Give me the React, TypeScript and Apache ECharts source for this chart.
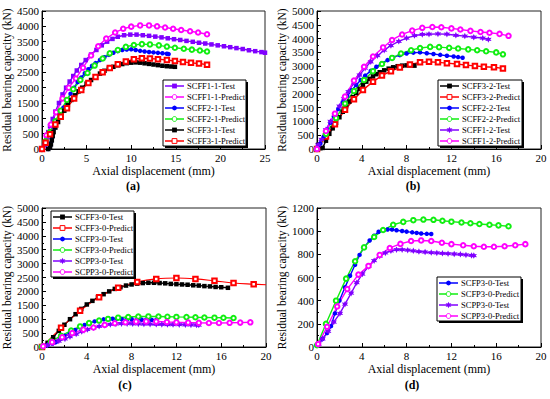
import React, { useEffect, useRef } from "react";
import * as echarts from "echarts";

const FONT = '"Liberation Serif", "Times New Roman", serif';

// Colours
const VIOLET = "#8000ff";
const MAGENTA = "#ff00ff";
const BLUE = "#0000ff";
const GREEN = "#11ee11";
const BLACK = "#000000";
const RED = "#ff0000";

const STAR_PTS = [[0,-10],[2.5,-4.33],[8.66,-5],[5,0],[8.66,5],[2.5,4.33],[0,10],[-2.5,4.33],[-8.66,5],[-5,0],[-8.66,-5],[-2.5,-4.33]];
const STAR = "path://M" + STAR_PTS.map((p) => p.join(",")).join("L") + "Z";

// ---------- Panel (a) ----------
const scff1_1_test = [[0.1,20],[0.3,120],[0.5,350],[0.7,550],[0.9,750],[1.2,980],[1.5,1220],[1.9,1500],[2.3,1780],[2.7,2000],[3.1,2200],[3.5,2380],[3.9,2560],[4.4,2740],[4.9,2900],[5.5,3080],[6.1,3230],[6.7,3380],[7.3,3500],[7.9,3590],[8.5,3660],[9.2,3710],[9.9,3730],[10.6,3730],[11.3,3710],[12.0,3690],[12.7,3665],[13.4,3640],[14.1,3610],[14.8,3580],[15.5,3555],[16.2,3525],[16.9,3495],[17.6,3465],[18.3,3440],[19.0,3410],[19.7,3380],[20.4,3350],[21.1,3320],[21.8,3290],[22.5,3260],[23.2,3220],[23.9,3190],[24.6,3160],[25.0,3140]];
const scff1_1_pred = [[0,0],[0.5,450],[1.0,800],[1.6,1200],[2.3,1650],[3.0,2000],[3.8,2300],[4.6,2650],[5.5,3050],[6.3,3350],[7.2,3600],[8.2,3800],[9.1,3920],[10.0,3990],[11.0,4030],[12.0,4030],[12.9,4000],[13.8,3960],[14.7,3920],[15.6,3880],[16.6,3840],[17.5,3800],[18.5,3740]];
const scff2_1_test = [[0.7,0],[0.9,80],[1.0,200],[1.1,350],[1.2,500],[1.4,680],[1.7,900],[2.0,1100],[2.4,1350],[2.8,1580],[3.2,1800],[3.6,2000],[4.0,2180],[4.4,2330],[4.8,2470],[5.2,2600],[5.6,2710],[6.0,2800],[6.5,2900],[7.0,2990],[7.5,3070],[8.0,3140],[8.5,3190],[9.0,3225],[9.5,3245],[10.0,3250],[10.5,3230],[11.0,3200],[11.5,3180],[12.0,3165],[12.5,3150],[13.0,3135],[13.5,3120],[14.0,3105],[14.2,3095]];
const scff2_1_pred = [[0,0],[0.4,250],[0.9,550],[1.5,900],[2.1,1250],[2.8,1600],[3.5,1950],[4.3,2250],[5.1,2480],[5.9,2720],[6.8,2950],[7.6,3120],[8.5,3230],[9.4,3330],[10.3,3390],[11.2,3420],[12.1,3410],[13.1,3380],[14.0,3340],[14.9,3300],[15.9,3270],[16.8,3240],[17.7,3210],[18.5,3180]];
const scff3_1_test = [[0.7,0],[0.9,60],[1.0,150],[1.1,280],[1.2,420],[1.3,550],[1.5,700],[1.8,880],[2.1,1050],[2.5,1250],[2.9,1430],[3.3,1600],[3.7,1750],[4.1,1880],[4.5,2000],[5.0,2130],[5.5,2250],[6.0,2360],[6.5,2460],[7.0,2550],[7.5,2620],[8.0,2680],[8.5,2730],[9.0,2770],[9.5,2800],[10.0,2815],[10.5,2825],[11.0,2815],[11.5,2795],[12.0,2775],[12.5,2755],[13.0,2735],[13.5,2715],[14.0,2700],[14.5,2690],[14.9,2680]];
const scff3_1_pred = [[0,0],[0.4,200],[0.9,480],[1.5,800],[2.1,1050],[2.8,1330],[3.6,1650],[4.4,1920],[5.2,2150],[6.0,2350],[6.8,2500],[7.6,2640],[8.5,2760],[9.4,2850],[10.3,2930],[11.2,2960],[12.1,2950],[13.0,2930],[14.0,2900],[14.9,2870],[15.8,2840],[16.7,2810],[17.6,2790],[18.5,2750]];

// ---------- Panel (b) ----------
const scff3_2_test = [[0.1,150],[0.3,30],[0.5,40],[0.8,300],[1.1,550],[1.4,750],[1.7,950],[2.0,1150],[2.3,1350],[2.6,1550],[2.9,1720],[3.2,1880],[3.5,2030],[3.8,2180],[4.1,2320],[4.4,2440],[4.7,2540],[5.0,2630],[5.3,2710],[5.6,2780],[6.0,2850],[6.4,2910],[6.8,2960],[7.2,3000],[7.6,3020],[8.0,3030],[8.4,3030],[8.7,3020]];
const scff3_2_pred = [[0,0],[0.8,450],[1.6,900],[2.5,1420],[3.3,1800],[4.1,2140],[5.0,2440],[5.8,2660],[6.6,2820],[7.4,2950],[8.3,3060],[9.2,3140],[10.0,3160],[10.8,3140],[11.6,3110],[12.5,3080],[13.3,3040],[14.1,3010],[14.9,2980],[15.8,2960],[16.6,2920]];
const scff2_2_test = [[0.1,100],[0.3,200],[0.6,450],[0.9,700],[1.2,950],[1.5,1180],[1.9,1450],[2.3,1700],[2.7,1920],[3.1,2130],[3.5,2320],[3.9,2500],[4.3,2660],[4.8,2830],[5.3,2980],[5.8,3110],[6.3,3220],[6.8,3320],[7.4,3400],[8.0,3460],[8.6,3490],[9.2,3500],[9.8,3470],[10.4,3440],[11.0,3410],[11.6,3380],[12.2,3350],[12.6,3330],[13.0,3305]];
const scff2_2_pred = [[0,0],[0.8,550],[1.7,1120],[2.5,1650],[3.3,2100],[4.2,2500],[5.0,2820],[5.8,3080],[6.7,3300],[7.5,3460],[8.4,3580],[9.2,3660],[10.1,3700],[10.9,3690],[11.8,3665],[12.6,3640],[13.5,3610],[14.3,3580],[15.1,3540],[16.0,3500],[16.6,3430]];
const scff1_2_test = [[0.1,150],[0.4,350],[0.8,700],[1.2,1000],[1.6,1250],[2.0,1550],[2.4,1820],[2.8,2080],[3.3,2400],[3.8,2680],[4.3,2930],[4.8,3160],[5.4,3380],[6.0,3580],[6.6,3750],[7.3,3900],[8.0,4020],[8.7,4110],[9.4,4150],[10.0,4160],[10.8,4170],[11.6,4160],[12.4,4120],[13.2,4090],[14.0,4050],[14.8,4020],[15.3,3970]];
const scff1_2_pred = [[0,0],[0.8,650],[1.6,1280],[2.5,1900],[3.3,2480],[4.2,2980],[5.0,3350],[5.9,3680],[6.7,3950],[7.6,4150],[8.5,4290],[9.4,4390],[10.3,4420],[11.1,4410],[12.0,4370],[12.8,4330],[13.7,4280],[14.6,4240],[15.4,4210],[16.3,4170],[17.1,4100]];

// ---------- Panels (c) and (d) ----------
const scff3_0_test = [[0,0],[0.5,150],[1.0,350],[1.5,580],[2.0,800],[2.5,1000],[3.0,1180],[3.5,1370],[4.0,1530],[4.5,1660],[5.0,1790],[5.5,1900],[6.0,2000],[6.5,2090],[7.0,2150],[7.5,2210],[8.0,2250],[8.5,2280],[9.0,2300],[9.5,2310],[10.0,2310],[10.5,2300],[11.0,2290],[11.5,2270],[12.0,2260],[12.5,2250],[13.0,2240],[13.5,2220],[14.0,2210],[14.5,2190],[15.0,2180],[15.5,2160],[16.0,2150],[16.6,2130]];
const scff3_0_pred = [[0,0],[1.7,690],[3.4,1300],[5.1,1790],[6.8,2130],[8.5,2340],[10.2,2450],[12.0,2480],[13.7,2450],[15.4,2380],[17.1,2300],[18.9,2260],[20,2240]];
const scfp3_0_test = [[0.1,15],[0.5,70],[0.9,120],[1.25,180],[1.6,290],[2.0,400],[2.5,515],[2.95,615],[3.4,710],[3.8,795],[4.2,860],[4.7,920],[5.1,960],[5.5,995],[5.9,1010],[6.3,1015],[6.7,1015],[7.1,1008],[7.6,1002],[8.0,996],[8.5,990],[8.9,985],[9.3,980],[9.8,977],[10.2,976]];
const scfp3_0_pred = [[0,15],[0.8,200],[1.7,400],[2.6,590],[3.4,740],[4.2,860],[5.1,950],[5.9,1010],[6.8,1055],[7.7,1080],[8.6,1095],[9.5,1100],[10.4,1098],[11.2,1090],[12.0,1082],[12.9,1075],[13.7,1068],[14.5,1062],[15.4,1055],[16.2,1050],[17.1,1042]];
const scpp3_0_test = [[0.15,25],[0.5,70],[1.0,135],[1.5,215],[2.05,290],[2.5,370],[3.05,465],[3.55,555],[4.05,630],[4.6,695],[5.1,745],[5.6,785],[6.1,812],[6.6,830],[7.1,840],[7.6,840],[8.1,836],[8.6,830],[9.1,824],[9.65,820],[10.2,815],[10.7,812],[11.2,809],[11.7,806],[12.25,803],[12.8,800],[13.3,795],[13.8,791],[14.0,789]];
const scpp3_0_pred = [[0.1,25],[0.9,175],[1.8,350],[2.7,500],[3.7,625],[4.6,700],[5.6,795],[6.5,855],[7.45,890],[8.4,915],[9.3,920],[10.2,915],[11.15,900],[12.0,888],[13.05,878],[14.0,870],[14.9,865],[15.8,865],[16.75,870],[17.7,878],[18.6,888]];

// Axis ticks
const xTicksA = { min: 0, max: 25, interval: 5 };
const xTicksB = { min: 0, max: 20, interval: 4 };
const yTicksA = { min: 0, max: 4500, interval: 500 };
const yTicksB = { min: 0, max: 5000, interval: 500 };
const yTicksD = { min: 0, max: 1200, interval: 200 };

const legendA = ["SCFF1-1-Test","SCFF1-1-Predict","SCFF2-1-Test","SCFF2-1-Predict","SCFF3-1-Test","SCFF3-1-Predict"];
const legendB = ["SCFF3-2-Test","SCFF3-2-Predict","SCFF2-2-Test","SCFF2-2-Predict","SCFF1-2-Test","SCFF1-2-Predict"];
const legendC = ["SCFF3-0-Test","SCFF3-0-Predict","SCFP3-0-Test","SCFP3-0-Predict","SCPP3-0-Test","SCPP3-0-Predict"];
const legendD = ["SCFP3-0-Test","SCFP3-0-Predict","SCPP3-0-Test","SCPP3-0-Predict"];

const panelLabels = ["(a)", "(b)", "(c)", "(d)"];

const X_TITLE = "Axial displacement (mm)";
const Y_TITLE = "Residual bearing capacity (kN)";

// series style: name -> [colour, symbol]
const STYLE: Record<string, [string, string]> = {
  "SCFF1-1-Test": [VIOLET, "rect"], "SCFF1-1-Predict": [MAGENTA, "emptyCircle"],
  "SCFF2-1-Test": [BLUE, "circle"], "SCFF2-1-Predict": [GREEN, "emptyCircle"],
  "SCFF3-1-Test": [BLACK, "rect"], "SCFF3-1-Predict": [RED, "emptyRect"],
  "SCFF3-2-Test": [BLACK, "rect"], "SCFF3-2-Predict": [RED, "emptyRect"],
  "SCFF2-2-Test": [BLUE, "circle"], "SCFF2-2-Predict": [GREEN, "emptyCircle"],
  "SCFF1-2-Test": [VIOLET, "star"], "SCFF1-2-Predict": [MAGENTA, "emptyCircle"],
  "SCFF3-0-Test": [BLACK, "rect"], "SCFF3-0-Predict": [RED, "emptyRect"],
  "SCFP3-0-Test": [BLUE, "circle"], "SCFP3-0-Predict": [GREEN, "emptyCircle"],
  "SCPP3-0-Test": [VIOLET, "star"], "SCPP3-0-Predict": [MAGENTA, "emptyCircle"],
};

function xAxis(gridIndex: number, t: any) {
  return {
    type: "value", gridIndex, ...t,
    axisLine: { show: true, onZero: false, lineStyle: { color: "#000", width: 1 } },
    axisTick: { show: true, inside: true, length: 4, lineStyle: { color: "#000" } },
    minorTick: { show: true, splitNumber: 2, length: 2, lineStyle: { color: "#000" } },
    splitLine: { show: false },
    axisLabel: { color: "#000", fontFamily: FONT, fontSize: 11, margin: 3, formatter: (v: number) => String(v) },
    name: X_TITLE, nameLocation: "middle", nameGap: 16,
    nameTextStyle: { color: "#000", fontFamily: FONT, fontSize: 12 },
  };
}
function yAxis(gridIndex: number, t: any) {
  return {
    type: "value", gridIndex, ...t,
    axisLine: { show: true, onZero: false, lineStyle: { color: "#000", width: 1 } },
    axisTick: { show: true, inside: true, length: 4, lineStyle: { color: "#000" } },
    minorTick: { show: true, splitNumber: 2, length: 2, lineStyle: { color: "#000" } },
    splitLine: { show: false },
    axisLabel: { color: "#000", fontFamily: FONT, fontSize: 11, margin: 3, formatter: (v: number) => String(v) },
    name: Y_TITLE, nameLocation: "middle", nameGap: 25,
    nameTextStyle: { color: "#000", fontFamily: FONT, fontSize: 11.5 },
  };
}

function line(name: string, data: any[], idx: number, extra: any = {}) {
  const [color, sym] = STYLE[name];
  const symbol = sym === "star" ? STAR : sym;
  const hollow = sym.startsWith("empty");
  return {
    type: "line", name, data, xAxisIndex: idx, yAxisIndex: idx,
    symbol, symbolSize: sym === "star" ? 6.5 : 4.5,
    showAllSymbol: true,
    lineStyle: { color, width: 1.4 },
    itemStyle: { color, borderColor: color, borderWidth: hollow ? 1 : 0 },
    emphasis: { disabled: true },
    z: 2,
    ...extra,
  };
}

function legendGraphic(names: string[], left: number, top: number, width: number) {
  const rowH = 11;
  const h = names.length * rowH;
  const els: any[] = [
    { type: "rect", z: 20, shape: { x: left + 2, y: top + 2, width, height: h }, style: { fill: "#000" } },
    { type: "rect", z: 21, shape: { x: left, y: top, width, height: h }, style: { fill: "#fff", stroke: "#000", lineWidth: 1 } },
  ];
  names.forEach((n, i) => {
    const [color, sym] = STYLE[n];
    const cy = top + 6 + rowH * i;
    const x0 = left + 2, x1 = left + 21, cx = (x0 + x1) / 2;
    els.push({ type: "line", z: 22, shape: { x1: x0, y1: cy, x2: x1, y2: cy }, style: { stroke: color, lineWidth: 1.5 } });
    const hollow = sym.startsWith("empty");
    const st = hollow ? { fill: "#fff", stroke: color, lineWidth: 1 } : { fill: color };
    if (sym.endsWith("ircle")) {
      els.push({ type: "circle", z: 23, shape: { cx, cy, r: 2.4 }, style: st });
    } else if (sym.endsWith("ect")) {
      els.push({ type: "rect", z: 23, shape: { x: cx - 2.4, y: cy - 2.4, width: 4.8, height: 4.8 }, style: st });
    } else {
      els.push({ type: "polygon", z: 23, shape: { points: STAR_PTS.map((p) => [cx + p[0] * 0.33, cy + p[1] * 0.33]) }, style: st });
    }
    els.push({ type: "text", z: 23, x: left + 24, y: cy, style: { text: n, fill: "#000", font: `8.5px ${FONT}`, textVerticalAlign: "middle" } });
  });
  return els;
}

export default function App() {
  const ref = useRef<HTMLDivElement>(null);
  useEffect(() => {
    if (!ref.current) return;
    const chart = echarts.init(ref.current, null, { renderer: "svg" });
    const gridStyle = { show: true, borderColor: "#222", borderWidth: 1, backgroundColor: "transparent" };
    const predC = scff3_0_pred.map((p, i) =>
      i === scff3_0_pred.length - 1 ? { value: p, symbol: "none" } : p
    );
    const labelPos = [[133, 186], [413, 186], [125, 385], [412, 385]];
    chart.setOption({
      animation: false,
      backgroundColor: "#fff",
      grid: [
        { left: 42, top: 11, width: 223, height: 138, ...gridStyle },
        { left: 317, top: 11, width: 224, height: 138, ...gridStyle },
        { left: 42, top: 208, width: 224, height: 139, ...gridStyle },
        { left: 317, top: 208, width: 224, height: 139, ...gridStyle },
      ],
      xAxis: [xAxis(0, xTicksA), xAxis(1, xTicksB), xAxis(2, xTicksB), xAxis(3, xTicksB)],
      yAxis: [yAxis(0, yTicksA), yAxis(1, yTicksB), yAxis(2, yTicksB), yAxis(3, yTicksD)],
      series: [
        line("SCFF1-1-Test", scff1_1_test, 0),
        line("SCFF1-1-Predict", scff1_1_pred, 0),
        line("SCFF2-1-Test", scff2_1_test, 0),
        line("SCFF2-1-Predict", scff2_1_pred, 0),
        line("SCFF3-1-Test", scff3_1_test, 0),
        line("SCFF3-1-Predict", scff3_1_pred, 0),

        line("SCFF3-2-Test", scff3_2_test, 1),
        line("SCFF3-2-Predict", scff3_2_pred, 1),
        line("SCFF2-2-Test", scff2_2_test, 1),
        line("SCFF2-2-Predict", scff2_2_pred, 1),
        line("SCFF1-2-Test", scff1_2_test, 1),
        line("SCFF1-2-Predict", scff1_2_pred, 1),

        line("SCFF3-0-Test", scff3_0_test, 2),
        line("SCFF3-0-Predict", predC, 2, { smooth: 0.4, lineStyle: { color: RED, width: 1.1 } }),
        line("SCFP3-0-Test", scfp3_0_test, 2),
        line("SCFP3-0-Predict", scfp3_0_pred, 2),
        line("SCPP3-0-Test", scpp3_0_test, 2),
        line("SCPP3-0-Predict", scpp3_0_pred, 2),

        line("SCFP3-0-Test", scfp3_0_test, 3),
        line("SCFP3-0-Predict", scfp3_0_pred, 3),
        line("SCPP3-0-Test", scpp3_0_test, 3),
        line("SCPP3-0-Predict", scpp3_0_pred, 3),
      ],
      graphic: [
        ...legendGraphic(legendA, 163, 80, 83),
        ...legendGraphic(legendB, 438, 80, 84),
        ...legendGraphic(legendC, 51, 211, 83),
        ...legendGraphic(legendD, 437, 277, 84),
        ...panelLabels.map((t, i) => ({
          type: "text", x: labelPos[i][0], y: labelPos[i][1],
          style: { text: t, fill: "#000", font: `bold 12px ${FONT}`, textAlign: "center", textVerticalAlign: "middle" },
        })),
      ],
    });
    return () => chart.dispose();
  }, []);
  return (
    <div
      ref={ref}
      style={{ position: "fixed", left: 0, top: 0, width: 550, height: 399, background: "#fff" }}
    />
  );
}
